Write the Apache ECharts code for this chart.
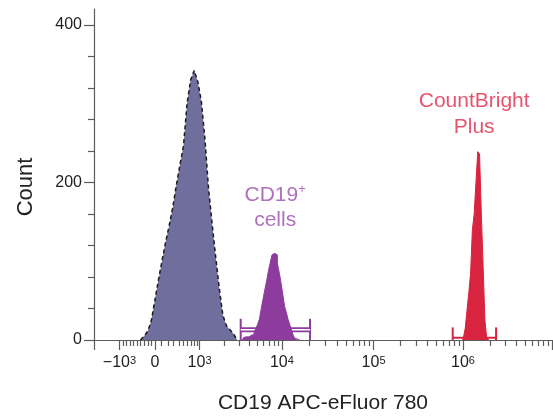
<!DOCTYPE html>
<html>
<head>
<meta charset="utf-8">
<script src="https://cdn.jsdelivr.net/npm/echarts@6/dist/echarts.min.js"></script>
<style>
html,body{margin:0;padding:0;background:#fff;}
#chart{width:553px;height:416px;}
</style>
</head>
<body>
<div id="chart"></div>
<script>
// ---- axis (display channels, 0..1024, biexponential-like decade layout) ----
const xMin = 0, xMax = 1024;
const xDecadeValues = [-1000, 0, 1000, 10000, 100000, 1000000, 10000000];
const xDecadeChannels = [57, 136, 236, 420, 625, 825, 1024];
const xTickLabels = ['−10{s|3}', '0', '10{s|3}', '10{s|4}', '10{s|5}', '10{s|6}', ''];
const yMax = 420;
const yMajorTicks = [0, 200, 400];
const yMinorTicks = [40, 80, 120, 160, 240, 280, 320, 360];

// ---- histograms (channel bin centres, counts) ----
const grayStart = 104, grayBin = 8;
const grayCounts = [0, 5, 11, 24, 50, 76, 100, 124, 145, 168, 196, 222, 246, 300, 330, 342,
                    328, 303, 255, 193, 148, 106, 66, 32, 18, 13, 8, 0];
const purpleStart = 332, purpleBin = 4;
const purpleCounts = [0, 3, 4, 4, 5, 6, 7, 10, 15, 20, 27, 40, 52, 64, 75, 88, 98, 108, 110,
                      108, 97, 86, 73, 58, 43, 35, 26, 19, 12, 5, 2, 1, 0];
const redStart = 824, redBin = 4;
const redCounts = [0, 3, 15, 38, 60, 85, 140, 160, 200, 239, 236, 160, 93, 25, 3, 0];

// ---- gates (channel range, bar level, end height) ----
const purpleGate = [328, 483];
const purpleGateLevel = 13, purpleGateEnd = 27;
const redGate = [802, 899];
const redGateLevel = 3, redGateEnd = 16;

// ---- annotations ----
const cd19Label = { text: 'CD19{s|+}\ncells', at: [405, 168] };
const cbLabel = { text: 'CountBright\nPlus', at: [850, 287] };

const FONT = "'Liberation Sans', Helvetica, Arial, sans-serif";
const grayFill = '#6f6e9c', purpleFill = '#8d3c9d', purpleText = '#9b4cad';
const redFill = '#d9243f', redText = '#e0284a';
const axisColor = '#5c5c5c', textColor = '#222';

function series(start, bin, counts) {
  return counts.map((c, i) => [start + i * bin, c]);
}

// minor tick channels from decade anchors
function minorTicks() {
  const out = [];
  const c = xDecadeChannels;
  for (let v = -900; v <= -100; v += 100) out.push(c[0] + (v + 1000) / 1000 * (c[1] - c[0]));
  const w = 400, den = Math.asinh(1000 / w);
  for (let v = 100; v <= 900; v += 100) out.push(c[1] + Math.asinh(v / w) / den * (c[2] - c[1]));
  for (let k = 2; k < c.length - 1; k++) {
    for (let m = 2; m <= 9; m++) out.push(c[k] + Math.log10(m) * (c[k + 1] - c[k]));
  }
  return out;
}

const labelMap = {};
xDecadeChannels.forEach((ch, i) => { labelMap[ch] = xTickLabels[i]; });

const supRich = {
  b: { fontSize: 16, fontFamily: FONT, color: textColor, lineHeight: 22, verticalAlign: 'bottom' },
  s: { fontSize: 11, fontFamily: FONT, color: textColor, lineHeight: 12, verticalAlign: 'top' }
};

function gateSeries(range, level, endH, color, barW, hollow) {
  const out = [];
  const segs = [
    [[range[0], 0], [range[0], endH]],
    [[range[1], 0], [range[1], endH]],
    [[range[0], level], [range[1], level]]
  ];
  segs.forEach((d, i) => {
    out.push({
      type: 'line', data: d, symbol: 'none', silent: true, animation: false,
      lineStyle: { color: color, width: i === 2 ? barW : 2 }, z: 2
    });
  });
  if (hollow) {
    out.push({
      type: 'line', data: segs[2], symbol: 'none', silent: true, animation: false,
      lineStyle: { color: '#ffffff', width: 1.6 }, z: 2
    });
  }
  return out;
}

const chart = echarts.init(document.getElementById('chart'), null, { renderer: 'canvas' });

const option = {
  animation: false,
  backgroundColor: '#ffffff',
  grid: { left: 94, right: 1, top: 9, bottom: 76, containLabel: false, outerBoundsMode: 'none' },
  xAxis: [
    {
      type: 'value', min: xMin, max: xMax, position: 'bottom',
      name: 'CD19 APC-eFluor 780', nameLocation: 'middle', nameGap: 53,
      nameTextStyle: { fontSize: 21, fontFamily: FONT, color: textColor },
      axisLine: { show: true, lineStyle: { color: axisColor, width: 1.2 } },
      axisTick: { show: true, length: 10, customValues: [xMin].concat(xDecadeChannels),
                  lineStyle: { color: axisColor, width: 1.2 } },
      axisLabel: {
        show: true, margin: 15, customValues: xDecadeChannels.slice(0, 6),
        formatter: v => labelMap[v] !== undefined ? labelMap[v] : '',
        rich: supRich, fontSize: 16, fontFamily: FONT, color: textColor
      },
      splitLine: { show: false }
    },
    {
      type: 'value', min: xMin, max: xMax, position: 'bottom',
      axisLine: { show: false },
      axisTick: { show: true, length: 6, customValues: minorTicks(),
                  lineStyle: { color: axisColor, width: 1.2 } },
      axisLabel: { show: false },
      splitLine: { show: false }
    }
  ],
  yAxis: [
    {
      type: 'value', min: 0, max: yMax, position: 'left',
      name: 'Count', nameLocation: 'middle', nameGap: 57,
      nameTextStyle: { fontSize: 22, fontFamily: FONT, color: textColor, padding: [0, 25, 0, 0] },
      axisLine: { show: true, lineStyle: { color: axisColor, width: 1.2 } },
      axisTick: { show: true, length: 10, customValues: yMajorTicks,
                  lineStyle: { color: axisColor, width: 1.2 } },
      axisLabel: { show: true, margin: 12, customValues: yMajorTicks,
                   fontSize: 16, fontFamily: FONT, color: textColor },
      splitLine: { show: false }
    },
    {
      type: 'value', min: 0, max: yMax, position: 'left',
      axisLine: { show: false },
      axisTick: { show: true, length: 6, customValues: yMinorTicks,
                  lineStyle: { color: axisColor, width: 1.2 } },
      axisLabel: { show: false },
      splitLine: { show: false }
    }
  ],
  series: [
    {
      name: 'unstained', type: 'line', data: series(grayStart, grayBin, grayCounts),
      symbol: 'none', z: 3,
      lineStyle: { color: '#1c1c1c', width: 1.5, type: [4, 3] },
      areaStyle: { color: grayFill, opacity: 1 }
    },
    ...gateSeries(purpleGate, purpleGateLevel, purpleGateEnd, purpleFill, 5, true),
    {
      name: 'CD19+', type: 'line', step: 'middle', data: series(purpleStart, purpleBin, purpleCounts),
      symbol: 'none', z: 3,
      lineStyle: { color: purpleFill, width: 1 },
      areaStyle: { color: purpleFill, opacity: 1 }
    },
    {
      name: 'CountBright', type: 'line', step: 'middle', data: series(redStart, redBin, redCounts),
      symbol: 'none', z: 3,
      lineStyle: { color: redFill, width: 1 },
      areaStyle: { color: redFill, opacity: 1 }
    },
    ...gateSeries(redGate, redGateLevel, redGateEnd, redFill, 2, false),
    {
      type: 'scatter', symbolSize: 0, silent: true, z: 5,
      data: [cd19Label.at],
      label: {
        show: true, position: 'inside', formatter: cd19Label.text,
        fontSize: 21, lineHeight: 25, fontFamily: FONT, color: purpleText, align: 'center',
        rich: { s: { fontSize: 13, fontFamily: FONT, color: purpleText, lineHeight: 25, verticalAlign: 'top', padding: [0, 0, 8, 0] } }
      }
    },
    {
      type: 'scatter', symbolSize: 0, silent: true, z: 5,
      data: [cbLabel.at],
      label: {
        show: true, position: 'inside', formatter: cbLabel.text,
        fontSize: 21, lineHeight: 26, fontFamily: FONT, color: redText, align: 'center'
      }
    }
  ]
};
chart.setOption(option);
</script>
</body>
</html>
